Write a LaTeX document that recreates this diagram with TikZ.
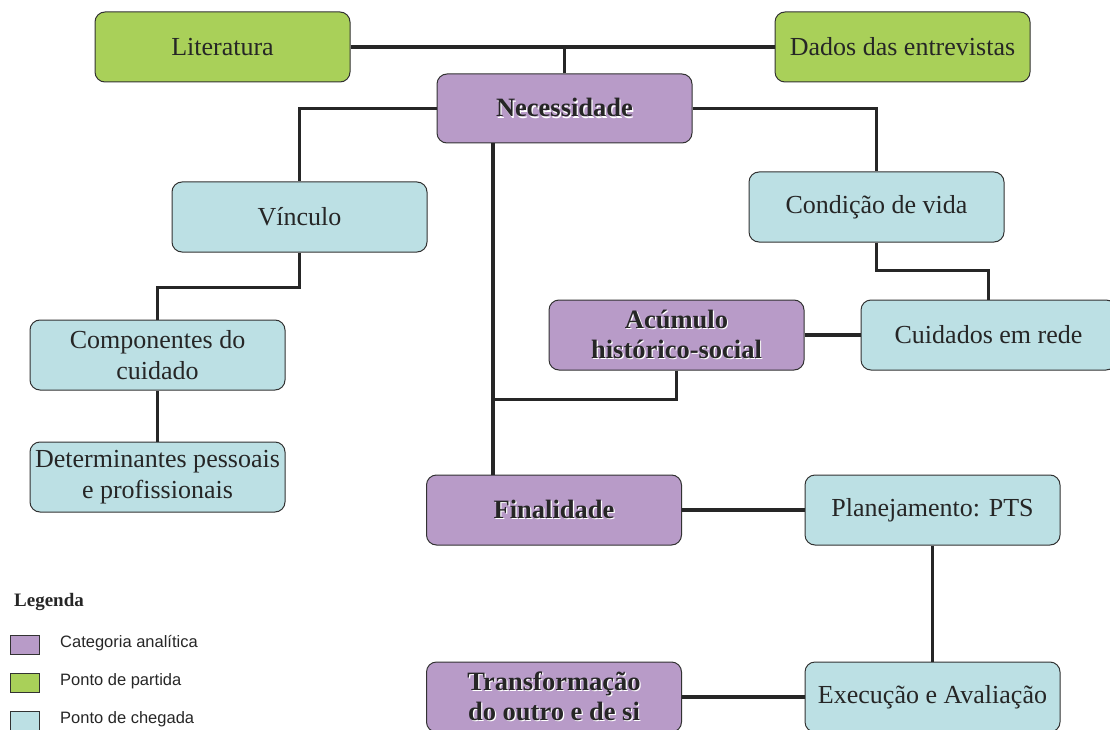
\documentclass[tikz,border=0pt]{standalone}
\usepackage{fontspec}
\setmainfont{Liberation Serif}
\newfontfamily\legfont{Liberation Sans}
\definecolor{cgreen}{RGB}{169,208,89}
\definecolor{cpurple}{RGB}{184,155,200}
\definecolor{cblue}{RGB}{188,224,228}
\definecolor{cborder}{RGB}{50,50,50}
\newcommand\shtxt[1]{\leavevmode\rlap{\kern1.2pt\raisebox{-1.2pt}{\color{white}#1}}#1}
\tikzset{
  box/.style={draw=cborder, line width=1pt, rounded corners=10pt, minimum width=255pt, minimum height=70pt,
    align=center, inner sep=2pt, font=\fontsize{26}{31}\selectfont, text=black!85},
  catbox/.style={box, fill=cpurple, font=\fontsize{26.5}{30}\selectfont\bfseries, text=black!85},
  startbox/.style={box, fill=cgreen},
  endbox/.style={box, fill=cblue},
  link/.style={line width=3.6pt, draw=black!85},
  legsq/.style={draw=cborder, line width=1pt, minimum width=29pt, minimum height=19pt, inner sep=0pt},
  legtxt/.style={anchor=west, inner sep=0pt, font=\legfont\fontsize{16.5}{19}\selectfont, text=black!85},
}
\begin{document}
\begin{tikzpicture}[x=1pt,y=-1pt]
\useasboundingbox (0,0) rectangle (1110,730);
\clip (0,0) rectangle (1110,730);
% nodes
\node[startbox] (lit) at (222.5,47) {Literatura};
\node[startbox] (dad) at (902.5,47) {Dados das entrevistas};
\node[catbox, minimum height=69pt] (nec) at (564.5,108.5) {\shtxt{Necessidade}};
\node[endbox] (vin) at (299.5,217) {Vínculo};
\node[endbox] (cond) at (876.5,207) {Condição de vida};
\node[endbox] (comp) at (157.5,355) {Componentes do\\cuidado};
\node[endbox] (det) at (157.5,477) {Determinantes pessoais\\e profissionais};
\node[catbox] (acu) at (676.5,335) {\shtxt{Acúmulo}\\\shtxt{histórico-social}};
\node[endbox] (cuid) at (988.5,335) {Cuidados em rede};
\node[catbox] (fin) at (554,510) {\shtxt{Finalidade}};
\node[endbox] (plan) at (932.5,510) {Planejamento: PTS};
\node[catbox] (trans) at (554,697) {\shtxt{Transformação}\\\shtxt{do outro e de si}};
\node[endbox] (exec) at (932.5,697) {Execução e Avaliação};
\coordinate (trunk) at (493,0);
% connectors
\draw[link] (lit.east) -- (dad.west);
\draw[link] (nec.north) -- (nec.north |- lit.east);
\draw[link] (nec.west) -| (vin.north);
\draw[link] (nec.east) -| (cond.north);
\draw[link] (nec.south -| trunk) -- (fin.north -| trunk);
\draw[link] (vin.south) -- ++(0,35) -| (comp.north);
\draw[link] (comp.south) -- (det.north);
\draw[link] (cond.south) -- ++(0,28) -| (cuid.north);
\draw[link] (acu.east) -- (cuid.west);
\draw[link] (acu.south) -- ++(0,29) -- ++(-183.5,0);
\draw[link] (fin.east) -- (plan.west);
\draw[link] (plan.south) -- (exec.north);
\draw[link] (trans.east) -- (exec.west);
% legend
\node[anchor=west, inner sep=0pt, font=\fontsize{19}{21}\selectfont\bfseries, text=black!85] (leg) at (14,602) {Legenda};
\node[legsq, fill=cpurple] (sq1) at (24.5,644.5) {};
\node[legsq, fill=cgreen] (sq2) at (24.5,682.5) {};
\node[legsq, fill=cblue] (sq3) at (24.5,720.5) {};
\node[legtxt] (t1) at (60,643) {Categoria analítica};
\node[legtxt] (t2) at (60,681) {Ponto de partida};
\node[legtxt] (t3) at (60,719) {Ponto de chegada};
\end{tikzpicture}
\end{document}
